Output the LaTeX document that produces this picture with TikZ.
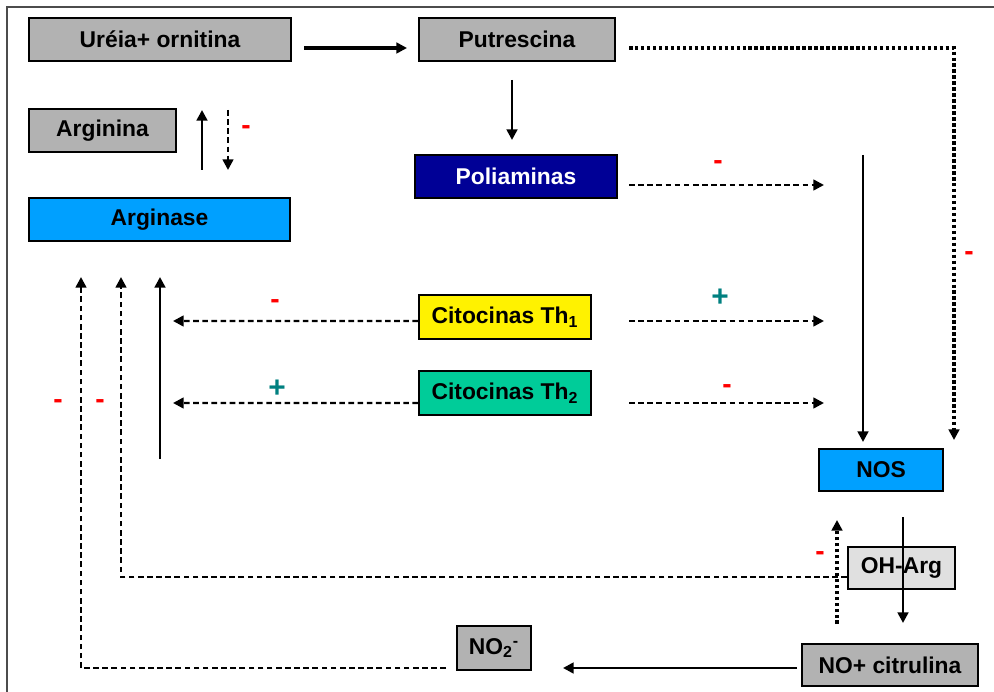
\documentclass[tikz,border=0pt]{standalone}
\usepackage{fontspec}
\setmainfont{Liberation Sans}
\usetikzlibrary{arrows.meta}

\definecolor{boxgray}{RGB}{178,178,178}
\definecolor{lightgray}{RGB}{224,224,224}
\definecolor{enzblue}{RGB}{0,160,255}
\definecolor{polinavy}{RGB}{0,0,150}
\definecolor{thgreen}{RGB}{0,204,153}
\definecolor{plusteal}{RGB}{0,128,128}

\tikzset{
  box/.style={draw=black, line width=1.1pt, inner sep=0pt, minimum height=0.86cm,
    font=\fontsize{13}{15}\selectfont\bfseries},
  flow/.style={line width=1.5pt, -{Triangle[length=6pt,width=6pt]}},
  dashflow/.style={line width=1.4pt, dash pattern=on 3.2pt off 2pt, -{Triangle[length=6pt,width=6pt]}},
  dotflow/.style={line width=2pt, dash pattern=on 2pt off 1.4pt, -{Triangle[length=6pt,width=6pt]}},
  minus/.style={text=red, inner sep=0pt, font=\fontsize{16}{16}\selectfont\bfseries},
  plus/.style={text=plusteal, inner sep=0pt, font=\fontsize{17}{17}\selectfont\bfseries}
}

\begin{document}
\begin{tikzpicture}[x=0.02cm, y=-0.02cm]
  \useasboundingbox (0,0) rectangle (994,692);
  \draw[line width=1.3pt, gray!60!black] (7,692) -- (7,7) -- (994,7);

  % boxes
  \node[box, fill=boxgray, minimum width=5.24cm] (ureia) at (160,39.5) {Uréia+ ornitina};
  \node[box, fill=boxgray, minimum width=3.92cm] (putr) at (517,39.5) {Putrescina};
  \node[box, fill=boxgray, minimum width=2.94cm] (argn) at (102.5,130.5) {Arginina};
  \node[box, fill=enzblue, minimum width=5.22cm] (argase) at (159.5,219.5) {Arginase};
  \node[box, fill=polinavy, text=white, minimum width=4.04cm] (poli) at (516,176.5) {Poliaminas};
  \node[box, fill=yellow, minimum width=3.44cm, minimum height=0.88cm] (th1) at (505,317) {Citocinas Th\textsubscript{1}};
  \node[box, fill=thgreen, minimum width=3.44cm, minimum height=0.88cm] (th2) at (505,393) {Citocinas Th\textsubscript{2}};
  \node[box, fill=enzblue, minimum width=2.48cm, minimum height=0.84cm] (nos) at (881,470) {NOS};
  \node[box, fill=boxgray, minimum width=3.52cm, minimum height=0.84cm] (nocit) at (890,665) {NO+ citrulina};
  \node[box, fill=boxgray, minimum width=1.48cm, minimum height=0.88cm] (no2) at (494,648) {NO\textsubscript{2}\textsuperscript{-}};
  \node[box, fill=lightgray, minimum width=2.14cm, minimum height=0.84cm] (oharg) at (901.5,568) {OH-Arg};

  % free ends
  \coordinate (u1) at (304,48);   \coordinate (u2) at (407,48);
  \coordinate (p1) at (512,80);   \coordinate (p2) at (512,140);
  \coordinate (r1) at (202,170);  \coordinate (r2) at (202,110);
  \coordinate (r3) at (228,110);  \coordinate (r4) at (228,170);
  \coordinate (pn1) at (629,48);  \coordinate (pn2) at (954,48);  \coordinate (pn3) at (954,440);
  \coordinate (q1) at (629,185);  \coordinate (q2) at (824,185);
  \coordinate (n1) at (863,155);  \coordinate (n2) at (863,442);
  \coordinate (t1) at (629,321);  \coordinate (t2) at (824,321);
  \coordinate (t3) at (629,403);  \coordinate (t4) at (824,403);
  \coordinate (t5) at (173,321);  \coordinate (t6) at (173,403);
  \coordinate (a1) at (160,459);  \coordinate (a2) at (160,277);
  \coordinate (h2) at (121,277);
  \coordinate (o1) at (446,668);  \coordinate (o2) at (81,668);  \coordinate (o3) at (81,277);
  \coordinate (c1) at (797,668);  \coordinate (c2) at (563,668);
  \coordinate (s1) at (903,517);  \coordinate (s2) at (903,623);
  \coordinate (d1) at (837,624);  \coordinate (d2) at (837,520);

  % connectors
  \draw[flow, line width=2.2pt] (u1) -- (u2);
  \draw[flow] (p1) -- (p2);
  \draw[flow] (r1) -- (r2);
  \draw[dashflow] (r3) -- (r4);
  \draw[dotflow] (pn1) -- (pn2) -- (pn3);
  \draw[dashflow] (q1) -- (q2);
  \draw[flow] (n1) -- (n2);
  \draw[dashflow] (t1) -- (t2);
  \draw[dashflow] (t3) -- (t4);
  \draw[dashflow] ([yshift=-0.08cm]th1.west) -- (t5);
  \draw[dashflow] ([yshift=-0.2cm]th2.west) -- (t6);
  \draw[flow] (a1) -- (a2);
  \draw[dashflow] ([yshift=-0.18cm]oharg.west) -| (h2);
  \draw[dashflow] (o1) -- (o2) -- (o3);
  \draw[flow] (c1) -- (c2);
  \draw[flow] (s1) -- (s2);
  \draw[dotflow] (d1) -- (d2);

  % signs
  \node[minus] (m1) at (246,130) {-};
  \node[minus] (m2) at (969,256) {-};
  \node[minus] (m3) at (718,165) {-};
  \node[minus] (m4) at (727,389) {-};
  \node[minus] (m5) at (275,304) {-};
  \node[minus] (m6) at (100,404) {-};
  \node[minus] (m7) at (58,404) {-};
  \node[minus] (m8) at (820,556) {-};
  \node[plus] (pl1) at (720,298) {+};
  \node[plus] (pl2) at (277,389) {+};
\end{tikzpicture}
\end{document}
